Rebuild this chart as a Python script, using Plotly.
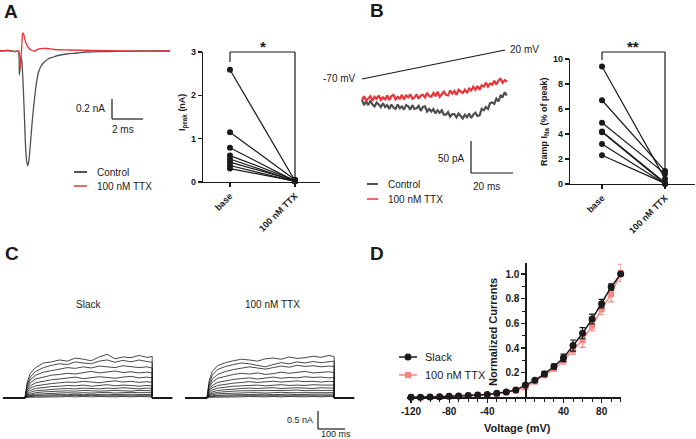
import plotly.graph_objects as go

W, H = 696, 439
FONT = "Liberation Sans"

# ---------------- Panel A: example traces (ms, nA) ----------------
A_T_CTRL = [0, 0.5, 1.0, 1.16, 1.25, 1.32, 1.38, 1.45, 1.55, 1.65, 1.72, 1.79, 1.86, 1.95, 2.05, 2.15, 2.3, 2.47, 2.65, 2.8,
            3.1, 3.44, 3.9, 4.3, 5.0, 5.6, 7.0, 9.0, 11.0]
A_I_CTRL = [0, 0.005, -0.005, 0, -0.24, -0.12, -0.07, -0.2, -0.55, -0.95, -1.10, -1.147, -1.10, -0.95, -0.76, -0.59, -0.38,
            -0.22, -0.15, -0.12, -0.08, -0.06, -0.04, -0.03, -0.02, -0.01, -0.005, 0, 0]
A_T_TTX = [0, 0.5, 1.0, 1.2, 1.3, 1.36, 1.42, 1.47, 1.52, 1.6, 1.7, 1.85, 2.0, 2.2, 2.5, 3.0, 3.5, 4.5, 6.0, 8.0, 11.0]
A_I_TTX = [0, 0.005, -0.005, 0, -0.17, -0.06, 0.10, 0.18, 0.17, 0.12, 0.07, 0.03, 0.01, 0.0, 0.02, 0.025, 0.015, 0.01,
           0.005, 0.0, 0.0]

# Panel A: paired peak currents (nA)
A_GROUPS = ["base", "100 nM TTX"]
A_BASE = [2.59, 1.15, 0.79, 0.61, 0.53, 0.46, 0.38, 0.31]
A_TTX = [0.03, 0.05, 0.02, 0.04, 0.02, 0.03, 0.01, 0.02]
A_YTICKS = [0, 1, 2, 3]

# ---------------- Panel B: ramp traces (ms, pA) ----------------
B_T = list(range(0, 70))
B_CTRL = [0, -8, -2, -8, -1, -7, -10, -4, -7, -11,
          -5, -11, -8, -14, -7, -12, -14, -7, -13, -10,
          -15, -8, -10, -15, -8, -14, -13, -9, -17, -11,
          -10, -18, -14, -18, -14, -21, -16, -20, -16, -23,
          -23, -19, -26, -22, -22, -27, -21, -26, -29, -23,
          -27, -21, -28, -23, -20, -25, -24, -14, -16, -11,
          -14, -5, -4, -6, 2, -2, 7, 5, 12, 7]
B_TTX = [0, 6, -1, 3, 6, -1, 5, 2, 7, 0,
         4, 1, 7, 0, 6, 8, 1, 5, 2, 8,
         1, 7, 4, 9, 2, 4, 9, 2, 7, 8,
         4, 11, 6, 5, 11, 6, 13, 5, 10, 13,
         8, 7, 15, 10, 14, 8, 16, 14, 11, 16,
         11, 18, 15, 21, 16, 22, 16, 23, 21, 27,
         21, 26, 24, 30, 24, 31, 33, 27, 31, 29]

# Panel B: paired ramp INa (% of peak)
B_BASE = [9.4, 6.7, 4.9, 4.2, 4.15, 3.2, 2.3]
B_TTXV = [0.43, 1.05, 0.83, 0.10, 0.02, 0.0, 0.05]
B_YTICKS = [0, 2, 4, 6, 8, 10]

# ---------------- Panel C: step current families (ms, nA) ----------------
C_T = [-83, 0, 8, 20, 40, 70, 100, 130, 160, 190, 220, 250, 280, 310, 340, 370, 400, 430, 460, 480, 480, 555]
C_SLACK = [
    [0.40, 0.65, 0.80, 0.92, 0.95, 1.00, 0.97, 1.05, 1.02, 0.98, 1.08, 1.15, 1.03, 1.08, 1.06, 1.12, 1.07, 1.09],
    [0.35, 0.55, 0.70, 0.80, 0.86, 0.90, 0.88, 0.95, 0.92, 0.90, 0.97, 1.00, 0.94, 0.99, 0.95, 1.00, 0.96, 0.94],
    [0.30, 0.48, 0.60, 0.68, 0.72, 0.76, 0.80, 0.78, 0.82, 0.79, 0.84, 0.82, 0.80, 0.85, 0.83, 0.80, 0.82, 0.79],
    [0.25, 0.40, 0.50, 0.56, 0.60, 0.62, 0.65, 0.63, 0.67, 0.70, 0.66, 0.68, 0.71, 0.67, 0.69, 0.66, 0.68, 0.66],
    [0.20, 0.32, 0.40, 0.45, 0.48, 0.50, 0.52, 0.55, 0.51, 0.53, 0.56, 0.54, 0.52, 0.55, 0.57, 0.53, 0.55, 0.53],
    [0.16, 0.26, 0.32, 0.36, 0.38, 0.40, 0.42, 0.41, 0.44, 0.42, 0.40, 0.43, 0.45, 0.42, 0.44, 0.41, 0.43, 0.41],
    [0.12, 0.20, 0.25, 0.28, 0.30, 0.31, 0.33, 0.32, 0.34, 0.31, 0.33, 0.35, 0.32, 0.34, 0.33, 0.31, 0.33, 0.32],
    [0.10, 0.15, 0.19, 0.21, 0.23, 0.24, 0.25, 0.24, 0.26, 0.25, 0.24, 0.26, 0.25, 0.27, 0.25, 0.24, 0.26, 0.25],
    [0.08, 0.11, 0.14, 0.16, 0.17, 0.18, 0.19, 0.18, 0.20, 0.19, 0.18, 0.19, 0.20, 0.19, 0.18, 0.20, 0.19, 0.19],
    [0.06, 0.08, 0.10, 0.11, 0.12, 0.13, 0.14, 0.13, 0.14, 0.13, 0.14, 0.15, 0.13, 0.14, 0.15, 0.14, 0.13, 0.14],
    [0.04, 0.06, 0.07, 0.08, 0.08, 0.09, 0.09, 0.10, 0.09, 0.10, 0.09, 0.10, 0.09, 0.10, 0.10, 0.09, 0.10, 0.09],
    [0.03, 0.04, 0.05, 0.05, 0.06, 0.06, 0.06, 0.07, 0.06, 0.07, 0.06, 0.06, 0.07, 0.06, 0.07, 0.06, 0.06, 0.06],
    [0.02, 0.02, 0.03, 0.03, 0.03, 0.03, 0.04, 0.03, 0.04, 0.03, 0.04, 0.03, 0.03, 0.04, 0.03, 0.04, 0.03, 0.03],
]
C_TTX = [
    [0.45, 0.70, 0.85, 0.93, 0.98, 1.02, 1.00, 0.97, 1.03, 1.05, 1.02, 1.08, 1.04, 1.06, 1.10, 1.07, 1.12, 1.09],
    [0.38, 0.60, 0.75, 0.83, 0.88, 0.92, 0.90, 0.86, 0.82, 0.88, 0.93, 0.90, 0.95, 0.92, 0.96, 0.93, 0.95, 0.97],
    [0.32, 0.50, 0.62, 0.70, 0.75, 0.78, 0.82, 0.79, 0.76, 0.80, 0.84, 0.81, 0.86, 0.83, 0.85, 0.82, 0.84, 0.83],
    [0.27, 0.42, 0.52, 0.58, 0.62, 0.65, 0.63, 0.66, 0.62, 0.64, 0.68, 0.65, 0.67, 0.70, 0.66, 0.68, 0.69, 0.67],
    [0.21, 0.33, 0.41, 0.46, 0.49, 0.51, 0.53, 0.50, 0.52, 0.55, 0.52, 0.54, 0.53, 0.56, 0.54, 0.55, 0.53, 0.54],
    [0.17, 0.27, 0.33, 0.37, 0.39, 0.41, 0.43, 0.41, 0.42, 0.44, 0.42, 0.43, 0.45, 0.43, 0.44, 0.42, 0.44, 0.43],
    [0.13, 0.21, 0.26, 0.29, 0.31, 0.32, 0.33, 0.34, 0.32, 0.33, 0.35, 0.33, 0.34, 0.33, 0.35, 0.34, 0.33, 0.34],
    [0.10, 0.16, 0.20, 0.22, 0.24, 0.25, 0.26, 0.25, 0.26, 0.27, 0.25, 0.26, 0.27, 0.26, 0.25, 0.27, 0.26, 0.26],
    [0.08, 0.12, 0.15, 0.17, 0.18, 0.19, 0.19, 0.20, 0.19, 0.20, 0.19, 0.20, 0.21, 0.19, 0.20, 0.20, 0.19, 0.20],
    [0.06, 0.09, 0.11, 0.12, 0.13, 0.13, 0.14, 0.14, 0.13, 0.14, 0.15, 0.14, 0.14, 0.15, 0.14, 0.14, 0.15, 0.14],
    [0.04, 0.06, 0.07, 0.08, 0.09, 0.09, 0.09, 0.10, 0.10, 0.09, 0.10, 0.10, 0.09, 0.10, 0.10, 0.10, 0.09, 0.10],
    [0.03, 0.04, 0.05, 0.05, 0.06, 0.06, 0.06, 0.06, 0.07, 0.06, 0.06, 0.07, 0.06, 0.07, 0.06, 0.06, 0.07, 0.06],
    [0.02, 0.02, 0.03, 0.03, 0.03, 0.03, 0.04, 0.03, 0.03, 0.04, 0.03, 0.04, 0.03, 0.03, 0.04, 0.03, 0.04, 0.03],
]

# ---------------- Panel D: normalized I-V ----------------
D_V = [-120, -110, -100, -90, -80, -70, -60, -50, -40, -30, -20, -10, 0, 10, 20, 30, 40, 50, 60, 70, 80, 90, 100]
D_SLACK = [0.0, 0.0, 0.003, 0.005, 0.008, 0.01, 0.014, 0.018, 0.022, 0.032, 0.043, 0.06, 0.1, 0.138, 0.19, 0.25, 0.32,
           0.42, 0.52, 0.635, 0.76, 0.895, 1.0]
D_SLACK_ERR = [0, 0, 0, 0, 0, 0, 0, 0, 0, 0.005, 0.005, 0.008, 0.012, 0.012, 0.02, 0.02, 0.03, 0.045, 0.045, 0.04, 0.035,
               0.025, 0.0]
D_TTX = [0.0, 0.0, 0.003, 0.005, 0.008, 0.01, 0.013, 0.017, 0.02, 0.028, 0.04, 0.055, 0.08, 0.127, 0.18, 0.232, 0.30,
         0.385, 0.465, 0.58, 0.715, 0.835, 1.01]
D_TTX_ERR = [0, 0, 0, 0, 0, 0, 0, 0, 0, 0.005, 0.005, 0.008, 0.015, 0.012, 0.02, 0.02, 0.03, 0.035, 0.06, 0.04, 0.045,
             0.06, 0.07]
D_XTICKS = [-120, -80, -40, 40, 80]
D_XTICKTEXT = ["-120", "-80", "-40", "40", "80"]
D_YTICKS = [0.2, 0.4, 0.6, 0.8, 1.0]

BLACK = "#1a1a1a"
GRAY = "#505050"
RED = "#e8353a"
PINK = "#f4877f"


def P(x):
    return x / W


def Q(y):
    return 1 - y / H


fig = go.Figure()

# A traces
fig.add_trace(go.Scatter(x=A_T_CTRL, y=A_I_CTRL, mode="lines", line=dict(color=GRAY, width=1.3, shape="spline"),
                         xaxis="x", yaxis="y", showlegend=False))
fig.add_trace(go.Scatter(x=A_T_TTX, y=A_I_TTX, mode="lines", line=dict(color=RED, width=1.3, shape="spline"),
                         xaxis="x", yaxis="y", showlegend=False))

# A paired
for b, t in zip(A_BASE, A_TTX):
    fig.add_trace(go.Scatter(x=[0, 1], y=[b, t], mode="lines+markers", line=dict(color=BLACK, width=1.2),
                             marker=dict(color=BLACK, size=6), cliponaxis=False,
                             xaxis="x2", yaxis="y2", showlegend=False))

# B traces
fig.add_trace(go.Scatter(x=B_T, y=B_CTRL, mode="lines", line=dict(color=GRAY, width=2.2),
                         xaxis="x3", yaxis="y3", showlegend=False))
fig.add_trace(go.Scatter(x=B_T, y=B_TTX, mode="lines", line=dict(color=RED, width=2.2),
                         xaxis="x3", yaxis="y3", showlegend=False))

# B paired
for b, t in zip(B_BASE, B_TTXV):
    fig.add_trace(go.Scatter(x=[0, 1], y=[b, t], mode="lines+markers", line=dict(color=BLACK, width=1.2),
                             marker=dict(color=BLACK, size=6), cliponaxis=False,
                             xaxis="x4", yaxis="y4", showlegend=False))

# C families
for mid in C_SLACK:
    fig.add_trace(go.Scatter(x=C_T, y=[0, 0] + mid + [0, 0], mode="lines", line=dict(color=BLACK, width=0.8),
                             xaxis="x5", yaxis="y5", showlegend=False))
for mid in C_TTX:
    fig.add_trace(go.Scatter(x=C_T, y=[0, 0] + mid + [0, 0], mode="lines", line=dict(color=BLACK, width=0.8),
                             xaxis="x6", yaxis="y6", showlegend=False))

# D I-V
fig.add_trace(go.Scatter(x=D_V, y=D_TTX, mode="lines+markers", line=dict(color=PINK, width=1.5),
                         marker=dict(color=PINK, size=6, symbol="square"),
                         error_y=dict(type="data", array=D_TTX_ERR, color=PINK, thickness=1.2, width=3),
                         cliponaxis=False, xaxis="x7", yaxis="y7", showlegend=False))
fig.add_trace(go.Scatter(x=D_V, y=D_SLACK, mode="lines+markers", line=dict(color=BLACK, width=1.5),
                         marker=dict(color=BLACK, size=7, symbol="circle"),
                         error_y=dict(type="data", array=D_SLACK_ERR, color=BLACK, thickness=1.2, width=3),
                         cliponaxis=False, xaxis="x7", yaxis="y7", showlegend=False))

hidden = dict(visible=False, fixedrange=True, automargin=False)
tickfont = dict(family=FONT, size=9, color=BLACK, weight="bold")
axcommon = dict(showline=True, linecolor=BLACK, linewidth=1.3, ticks="outside", ticklen=4, tickwidth=1.2,
                tickcolor=BLACK, showgrid=False, zeroline=False, tickfont=tickfont, automargin=False)

layout = dict(
    template="none",
    width=W, height=H, margin=dict(l=0, r=0, t=0, b=0, pad=0, autoexpand=False),
    paper_bgcolor="white", plot_bgcolor="rgba(0,0,0,0)",
    font=dict(family=FONT, color=BLACK),
    hovermode=False,
    xaxis=dict(domain=[P(0), P(170)], range=[0, 10.97], anchor="y", **hidden),
    yaxis=dict(domain=[Q(200), Q(20)], range=[-1.49, 0.31], anchor="x", **hidden),
    xaxis2=dict(domain=[P(203), P(320)], range=[-0.415, 1.385], anchor="y2", tickmode="array", tickvals=[0, 1],
                ticktext=A_GROUPS, tickangle=-45, **axcommon),
    yaxis2=dict(domain=[Q(182), Q(52)], range=[0, 3], anchor="x2", tickmode="array", tickvals=A_YTICKS, **axcommon),
    xaxis3=dict(domain=[P(355), P(560)], range=[-3.33, 94.29], anchor="y3", **hidden),
    yaxis3=dict(domain=[Q(210), Q(30)], range=[-171.9, 109.4], anchor="x3", **hidden),
    xaxis4=dict(domain=[P(570), P(695)], range=[-0.508, 1.476], anchor="y4", tickmode="array", tickvals=[0, 1],
                ticktext=A_GROUPS, tickangle=-45, **axcommon),
    yaxis4=dict(domain=[Q(184), Q(59)], range=[0, 10], anchor="x4", tickmode="array", tickvals=B_YTICKS, **axcommon),
    xaxis5=dict(domain=[P(0), P(175)], range=[-94.3, 566], anchor="y5", **hidden),
    yaxis5=dict(domain=[Q(405), Q(330)], range=[-0.184, 1.789], anchor="x5", **hidden),
    xaxis6=dict(domain=[P(180), P(355)], range=[-101.9, 558.5], anchor="y6", **hidden),
    yaxis6=dict(domain=[Q(405), Q(330)], range=[-0.184, 1.789], anchor="x6", **hidden),
    xaxis7=dict(domain=[P(406.7), P(620.7)], range=[-124.5, 100], anchor="y7", tickmode="array", tickvals=D_XTICKS,
                ticktext=D_XTICKTEXT,
                minor=dict(tickmode="linear", tick0=0, dtick=10, ticks="outside", ticklen=3, tickcolor=BLACK,
                           tickwidth=1),
                **axcommon),
    yaxis7=dict(domain=[Q(397.3), Q(263)], range=[0, 1.09], anchor="free", position=P(525.4), tickmode="array",
                tickvals=D_YTICKS, tickformat=".1f",
                minor=dict(tickmode="linear", tick0=0, dtick=0.1, ticks="outside", ticklen=3, tickcolor=BLACK,
                           tickwidth=1),
                **axcommon),
)
layout["xaxis7"]["tickfont"] = dict(family=FONT, size=10, color=BLACK, weight="bold")
layout["yaxis7"]["tickfont"] = dict(family=FONT, size=10, color=BLACK, weight="bold")

shapes = []
annots = []


def line(x0, y0, x1, y1, color=BLACK, width=1.2):
    shapes.append(dict(type="line", xref="paper", yref="paper", x0=P(x0), y0=Q(y0), x1=P(x1), y1=Q(y1),
                       line=dict(color=color, width=width)))


def text(s, x, y, size=10, xanchor="center", yanchor="middle", angle=0, bold=False):
    annots.append(dict(text=("<b>%s</b>" % s) if bold else s, x=P(x), y=Q(y), xref="paper", yref="paper",
                       showarrow=False, xanchor=xanchor, yanchor=yanchor, textangle=angle,
                       font=dict(family=FONT, size=size, color=BLACK)))


# panel letters
for s, x, y in [("A", 11, 12), ("B", 377, 11), ("C", 12, 253), ("D", 377, 253)]:
    text(s, x, y, size=19, bold=True)

# A scale bar + legend
line(112, 99, 112, 119)
line(112, 119, 143, 119)
text("0.2 nA", 107, 109, xanchor="right")
text("2 ms", 123, 129)
line(74, 172, 87, 172, color=BLACK, width=1.5)
line(74, 186, 87, 186, color=RED, width=1.5)
text("Control", 95, 172, xanchor="left")
text("100 nM TTX", 95, 186, xanchor="left")
# A stats
text("I<sub>peak</sub> (nA)", 183, 113, size=9, angle=-90, bold=True)
line(230, 62, 230, 52)
line(230, 52, 295, 52)
line(295, 52, 295, 177)
text("*", 263, 46, size=15, bold=True)

# B ramp protocol
line(362, 79, 505, 50, width=1.2)
text("-70 mV", 358, 79, xanchor="right")
text("20 mV", 508, 49, xanchor="left")
# B scale bar + legend
line(471, 141, 471, 173)
line(471, 173, 513, 173)
text("50 pA", 466, 158, xanchor="right")
text("20 ms", 486, 186)
line(367, 184, 378, 184, color=BLACK, width=1.5)
line(367, 199, 378, 199, color=RED, width=1.5)
text("Control", 386, 184, xanchor="left")
text("100 nM TTX", 386, 199, xanchor="left")
# B stats
text("Ramp I<sub>Na</sub> (% of peak)", 545, 122, size=9, angle=-90, bold=True)
line(602, 60, 602, 52)
line(602, 52, 665, 52)
line(665, 52, 665, 170)
text("**", 633, 46, size=15, bold=True)

# C labels + scale bar
text("Slack", 88, 304)
text("100 nM TTX", 272, 304)
line(318, 411, 318, 429)
line(318, 429, 345, 429)
text("0.5 nA", 315, 420, size=9, xanchor="right")
text("100 ms", 336, 434, size=9)

# D titles + legend
text("Normalized Currents", 493, 332, size=11, angle=-90, bold=True)
text("Voltage (mV)", 517, 428, size=11, bold=True)
line(399, 357, 417, 357, color=BLACK, width=1.5)
shapes.append(dict(type="circle", xref="paper", yref="paper", x0=P(404.5), x1=P(411.5), y0=Q(360.5), y1=Q(353.5),
                   fillcolor=BLACK, line=dict(color=BLACK, width=0)))
line(399, 375, 417, 375, color=PINK, width=1.5)
shapes.append(dict(type="rect", xref="paper", yref="paper", x0=P(405), x1=P(411), y0=Q(378), y1=Q(372),
                   fillcolor=PINK, line=dict(color=PINK, width=0)))
text("Slack", 423, 357, size=11, xanchor="left")
text("100 nM TTX", 423, 375, size=11, xanchor="left")

layout["shapes"] = shapes
layout["annotations"] = annots
fig.update_layout(**layout)
fig.write_html("out.html", config={"displayModeBar": False, "staticPlot": True},
               post_script="document.body.style.margin='0px';document.body.style.overflow='hidden';")
